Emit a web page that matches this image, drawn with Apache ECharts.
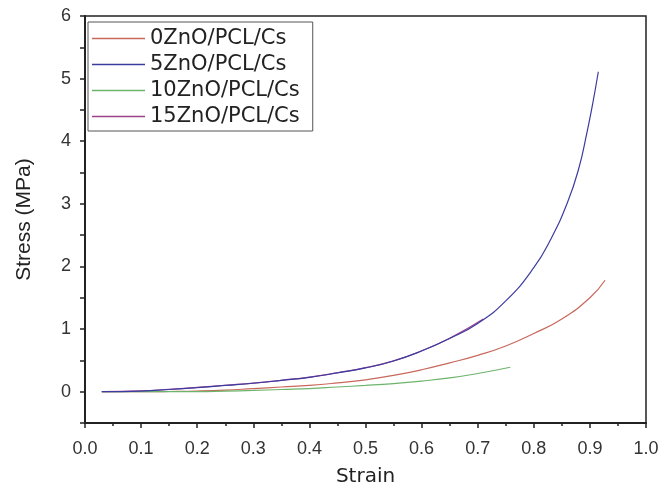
<!DOCTYPE html>
<html>
<head>
<meta charset="utf-8">
<script src="https://cdn.jsdelivr.net/npm/echarts@6/dist/echarts.min.js"></script>
<style>html,body{margin:0;padding:0;background:#fff}#c{width:672px;height:486px}</style>
</head>
<body>
<div id="c"></div>
<script>
const seriesNames = ['0ZnO/PCL/Cs', '5ZnO/PCL/Cs', '10ZnO/PCL/Cs', '15ZnO/PCL/Cs'];
const xTickLabels = ['0.0','0.1','0.2','0.3','0.4','0.5','0.6','0.7','0.8','0.9','1.0'];
const yTickLabels = ['0','1','2','3','4','5','6'];

const zno0 = [[0.03,0],[0.1,0],[0.15,0.003],[0.2,0.01],[0.25,0.025],[0.3,0.05],[0.35,0.075],[0.4,0.1],[0.45,0.14],[0.5,0.19],[0.55,0.26],[0.6,0.35],[0.65,0.46],[0.7,0.58],[0.75,0.73],[0.8,0.93],[0.85,1.16],[0.9,1.5],[0.927,1.78]];
const zno5 = [[0.03,0],[0.1,0.01],[0.15,0.035],[0.2,0.065],[0.25,0.1],[0.3,0.135],[0.35,0.18],[0.4,0.23],[0.45,0.3],[0.5,0.38],[0.55,0.49],[0.6,0.65],[0.65,0.85],[0.7,1.09],[0.75,1.45],[0.8,1.98],[0.83,2.43],[0.86,3.02],[0.88,3.56],[0.895,4.15],[0.905,4.6],[0.915,5.11]];
const zno10 = [[0.03,0],[0.1,0],[0.2,0.002],[0.25,0.01],[0.3,0.02],[0.35,0.035],[0.4,0.05],[0.45,0.075],[0.5,0.1],[0.55,0.13],[0.6,0.17],[0.65,0.22],[0.7,0.29],[0.758,0.39]];
const zno15 = [[0.03,0],[0.1,0.012],[0.15,0.037],[0.2,0.068],[0.25,0.103],[0.3,0.138],[0.35,0.183],[0.4,0.233],[0.45,0.303],[0.5,0.383],[0.55,0.493],[0.6,0.653],[0.65,0.853],[0.71,1.16]];

const colors = ['#c8685c', '#3c3ca0', '#6cb46c', '#a0408c'];
const chart = echarts.init(document.getElementById('c'));
const font = 'Liberation Sans, Arial, sans-serif';
function line(i, data, z) {
  return {name: seriesNames[i], type: 'line', data: data, smooth: true,
    symbol: 'none', z: z, lineStyle: {color: colors[i], width: 1.2}, itemStyle: {color: colors[i]}};
}
chart.setOption({
  animation: false,
  backgroundColor: '#fff',
  grid: {left: 85, right: 26, top: 16, bottom: 63, show: true, borderColor: '#222', borderWidth: 1.5,
    containLabel: false, outerBoundsMode: 'none'},
  legend: {
    orient: 'vertical', left: 88, top: 22,
    data: seriesNames,
    icon: 'rect', itemWidth: 53, itemHeight: 1.5, itemGap: 5,
    padding: [6, 13, 4, 4],
    borderColor: '#555', borderWidth: 1,
    textStyle: {fontFamily: 'DejaVu Sans, sans-serif', fontSize: 21, color: '#222'}
  },
  xAxis: {
    type: 'value', min: 0, max: 1, interval: 0.1,
    name: 'Strain', nameLocation: 'middle', nameGap: 44,
    nameTextStyle: {fontFamily: 'DejaVu Sans, sans-serif', fontSize: 20, color: '#222'},
    axisLine: {onZero: false, lineStyle: {color: '#222', width: 2}},
    axisTick: {show: true, length: 5, lineStyle: {color: '#222', width: 1.5}},
    minorTick: {show: true, splitNumber: 2, length: 3, lineStyle: {color: '#222', width: 1.5}},
    splitLine: {show: false},
    axisLabel: {fontFamily: font, fontSize: 18, color: '#333', margin: 17,
      formatter: v => xTickLabels[Math.round(v * 10)] || ''}
  },
  yAxis: {
    type: 'value', min: -0.5, max: 6, interval: 0.5,
    name: 'Stress (MPa)', nameLocation: 'middle', nameGap: 50, nameRotate: 90,
    nameTextStyle: {fontFamily: font, fontSize: 21, color: '#222'},
    axisLine: {onZero: false, lineStyle: {color: '#222', width: 2}},
    axisTick: {show: true, length: 5, lineStyle: {color: '#222', width: 1.5}},
    splitLine: {show: false},
    axisLabel: {fontFamily: font, fontSize: 18, color: '#333', margin: 14,
      formatter: v => (Number.isInteger(v) && v >= 0) ? yTickLabels[v] : ''}
  },
  series: [
    line(3, zno15, 1),
    line(0, zno0, 2),
    line(2, zno10, 2),
    line(1, zno5, 3)
  ]
});
</script>
</body>
</html>
